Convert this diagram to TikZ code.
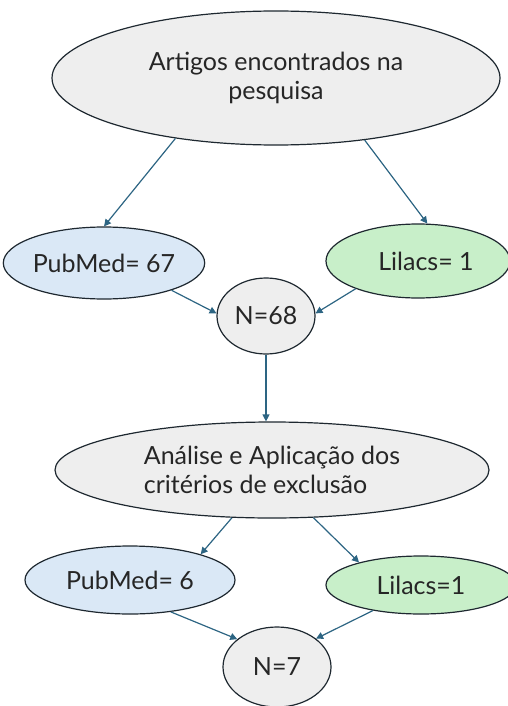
\documentclass[tikz,border=0pt]{standalone}
\usepackage{fontspec}
\setmainfont{Lato}
\usetikzlibrary{shapes.geometric,arrows.meta}
\definecolor{greyfill}{HTML}{EEEEEE}
\definecolor{bluefill}{HTML}{DAE8F6}
\definecolor{greenfill}{HTML}{C8EFC9}
\definecolor{edgecol}{HTML}{1E2830}
\definecolor{arrowcol}{HTML}{2D6583}
\tikzset{
  oval/.style={ellipse, draw=edgecol, line width=1.2pt, inner sep=0pt, align=center, font=\fontsize{25}{29}\selectfont, text=black!85},
  greyoval/.style={oval, fill=greyfill},
  blueoval/.style={oval, fill=bluefill},
  greenoval/.style={oval, fill=greenfill},
  flow/.style={draw=arrowcol, line width=1.2pt, -{Triangle[length=7pt,width=7pt]}}
}
\begin{document}
\begin{tikzpicture}[x=1pt,y=-1pt]
\useasboundingbox (0,0) rectangle (508,706);
\node[greyoval, minimum width=448pt, minimum height=134pt] (top) at (276,78) {Artigos encontrados na\\pesquisa};
\node[blueoval, minimum width=192pt, minimum height=72pt] (pub1) at (104,263) {PubMed= 67};
\node[greenoval, minimum width=184pt, minimum height=74pt] (lil1) at (418,261) {\hspace*{16pt}Lilacs= 1};
\node[greyoval, minimum width=98pt, minimum height=76pt] (n1) at (266,316) {N=68};
\node[greyoval, minimum width=434pt, minimum height=96pt, align=left] (ana) at (272,470) {Análise e Aplicação dos\\critérios de exclusão};
\node[blueoval, minimum width=210pt, minimum height=68pt] (pub2) at (130,580) {PubMed= 6};
\node[greenoval, minimum width=190pt, minimum height=58pt] (lil2) at (421,585) {Lilacs=1};
\node[greyoval, minimum width=108pt, minimum height=80pt] (n2) at (277,667) {N=7};

\draw[flow] (top.211) -- (pub1.north);
\draw[flow] (top.325) -- (lil1.76);
\draw[flow] (pub1.338) -- (n1.177);
\draw[flow] (lil1.204) -- (n1.3);
\draw[flow] (n1.south) -- (ana.north -| n1.south);
\draw[flow] (ana.230) -- (pub2.20);
\draw[flow] (ana.311) -- (lil2.160);
\draw[flow] (pub2.322) -- (n2.145);
\draw[flow] (lil2.208) -- (n2.36);
\end{tikzpicture}
\end{document}
